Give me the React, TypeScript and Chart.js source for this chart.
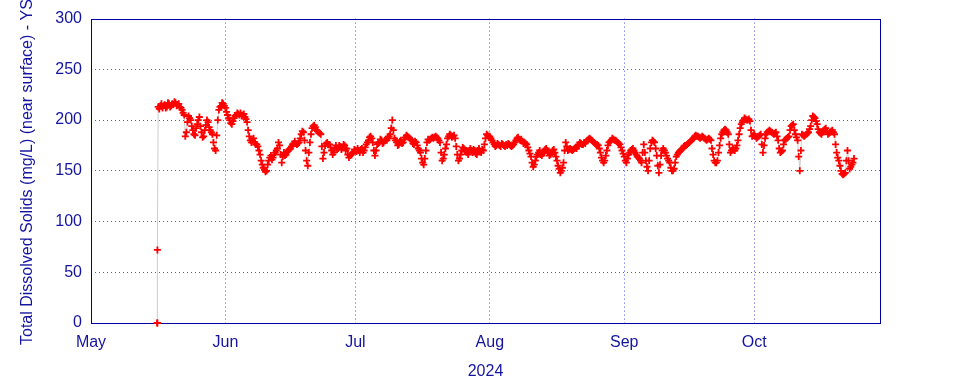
import React, { useEffect, useRef } from 'react';
import { Chart, registerables } from 'chart.js';

Chart.register(...registerables);

// ---- axis definitions ----
const MONTH_LABELS = ['May', 'Jun', 'Jul', 'Aug', 'Sep', 'Oct'];
const MONTH_START_DAYS = [0, 31, 61, 92, 123, 153]; // days since May 1
const X_MIN_DAY = 0;
const X_MAX_DAY = 182;
const Y_MIN = 0;
const Y_MAX = 300;
const Y_STEP = 50;
const YEAR_LABEL = '2024';
const Y_TITLE = 'Total Dissolved Solids (mg/L) (near surface) - YSI';

// ---- data: instrument start-up readings ----
const STARTUP_DAYS = [15.28, 15.3, 15.32];
const STARTUP_TDS = [0, 0, 72];

// ---- data: TDS readings (mg/L) every 12 h, from day 15.5 (May 16) ----
const SERIES_START_DAY = 15.5;
const SERIES_STEP_DAYS = 0.5;
const TDS = [
  213, 214, 212, 215, 213, 216, 214, 215, 217, 215,
  213, 210, 205, 188, 204, 200, 190, 185, 196, 203,
  188, 184, 195, 198, 190, 186, 172, 185, 210, 214,
  216, 212, 205, 200, 196, 202, 205, 206, 207, 205,
  203, 198, 184, 178, 182, 176, 174, 166, 156, 151,
  150, 160, 165, 163, 168, 172, 175, 158, 168, 166,
  170, 172, 176, 179, 176, 178, 186, 188, 170, 155,
  178, 192, 195, 190, 188, 186, 162, 175, 178, 176,
  170, 168, 175, 172, 174, 173, 175, 172, 163, 166,
  168, 170, 172, 168, 172, 170, 176, 180, 184, 178,
  165, 176, 178, 180, 178, 181, 182, 186, 200, 182,
  178, 176, 180, 178, 183, 184, 182, 180, 176, 178,
  172, 168, 158, 162, 178, 180, 182, 182, 184, 182,
  178, 160, 166, 176, 184, 185, 184, 182, 166, 162,
  170, 172, 170, 166, 172, 168, 170, 166, 172, 168,
  170, 182, 185, 184, 180, 176, 175, 176, 174, 176,
  174, 175, 176, 174, 176, 180, 183, 180, 179, 178,
  176, 170, 164, 154, 160, 166, 170, 165, 168, 172,
  168, 166, 170, 168, 160, 152, 150, 158, 178, 170,
  172, 170, 172, 172, 176, 177, 176, 177, 180, 182,
  180, 178, 176, 175, 168, 160, 160, 170, 178, 180,
  181, 180, 178, 176, 170, 164, 158, 166, 170, 172,
  168, 164, 162, 158, 176, 160, 150, 172, 180, 178,
  165, 148, 165, 172, 168, 162, 158, 150, 152, 164,
  168, 170, 172, 175, 176, 178, 180, 182, 185, 184,
  182, 184, 182, 180, 182, 180, 166, 158, 160, 175,
  186, 190, 190, 186, 168, 172, 170, 175, 186, 196,
  200, 201, 200, 199, 184, 186, 182, 184, 186, 168,
  182, 188, 190, 188, 186, 188, 180, 168, 170, 180,
  182, 184, 194, 196, 186, 180, 150, 186, 184, 186,
  188, 194, 204, 202, 196, 188, 186, 190, 192, 186,
  188, 190, 186, 168, 160, 150, 146, 148, 170, 152,
  156, 162,
];

// ---- data: readings taken 6 h after each of the above ----
const TDS_MID = [
  211, 216, 214, 212, 217, 213, 216, 218, 214, 216,
  212, 207, 184, 198, 202, 194, 186, 192, 200, 194,
  183, 190, 200, 193, 188, 178, 170, 200, 213, 217,
  214, 208, 202, 197, 199, 204, 207, 205, 204, 206,
  201, 190, 180, 180, 178, 176, 170, 160, 153, 149,
  156, 163, 161, 166, 170, 178, 166, 164, 165, 169,
  171, 174, 177, 177, 177, 182, 189, 180, 160, 168,
  186, 194, 193, 189, 187, 174, 168, 177, 176, 173,
  166, 172, 171, 175, 171, 176, 170, 166, 165, 167,
  171, 169, 170, 171, 168, 173, 178, 183, 182, 170,
  170, 177, 181, 177, 180, 180, 184, 192, 190, 180,
  175, 179, 177, 181, 185, 183, 181, 177, 179, 175,
  170, 162, 156, 170, 181, 181, 183, 183, 183, 180,
  168, 162, 172, 182, 186, 183, 185, 174, 160, 166,
  173, 169, 168, 170, 170, 171, 167, 170, 169, 171,
  176, 186, 183, 182, 178, 174, 177, 175, 177, 175,
  176, 177, 175, 175, 178, 182, 181, 181, 177, 177,
  173, 167, 158, 156, 164, 168, 166, 167, 171, 170,
  165, 168, 171, 164, 155, 148, 153, 170, 174, 171,
  171, 171, 173, 174, 178, 176, 178, 179, 181, 181,
  179, 177, 176, 172, 163, 158, 165, 175, 179, 182,
  180, 179, 177, 173, 167, 160, 162, 168, 171, 170,
  166, 163, 160, 168, 168, 154, 160, 178, 179, 172,
  155, 156, 170, 170, 165, 160, 153, 150, 158, 166,
  169, 171, 174, 175, 177, 179, 181, 184, 184, 183,
  183, 183, 181, 181, 181, 172, 160, 158, 168, 182,
  188, 191, 188, 176, 170, 171, 172, 180, 192, 198,
  202, 200, 201, 190, 185, 184, 183, 185, 176, 175,
  186, 189, 189, 187, 187, 184, 172, 169, 176, 181,
  183, 190, 195, 190, 183, 164, 170, 185, 185, 187,
  191, 200, 203, 199, 191, 187, 188, 191, 189, 187,
  189, 188, 176, 163, 155, 147, 147, 160, 160, 154,
  158,
];

const TEXT_COLOR = '#1414a0';
const FRAME_COLOR = '#0000a0';
const GRID_COLOR = '#5050ff';
const FONT_FAMILY = '"Liberation Sans", Arial, sans-serif';

export default function App() {
  const canvasRef = useRef<HTMLCanvasElement | null>(null);

  useEffect(() => {
    document.body.style.margin = '0';
    const canvas = canvasRef.current;
    if (!canvas) return;

    const points: { x: number; y: number }[] = STARTUP_DAYS.map((d, i) => ({ x: d, y: STARTUP_TDS[i] }));
    TDS.forEach((v, i) => {
      const day = SERIES_START_DAY + i * SERIES_STEP_DAYS;
      points.push({ x: day, y: v });
      if (i < TDS_MID.length) points.push({ x: day + SERIES_STEP_DAYS / 2, y: TDS_MID[i] });
    });

    const framePlugin = {
      id: 'frameAndTitles',
      beforeDatasetsDraw(chart: any) {
        const { ctx, chartArea } = chart;
        ctx.save();
        ctx.strokeStyle = FRAME_COLOR;
        ctx.lineWidth = 1;
        ctx.strokeRect(
          Math.round(chartArea.left) + 0.5,
          Math.round(chartArea.top) + 0.5,
          Math.round(chartArea.right - chartArea.left),
          Math.round(chartArea.bottom - chartArea.top)
        );
        ctx.restore();
      },
      afterDraw(chart: any) {
        const { ctx, chartArea } = chart;
        ctx.save();
        ctx.fillStyle = TEXT_COLOR;
        ctx.font = `16px ${FONT_FAMILY}`;
        ctx.translate(28, 345);
        ctx.rotate(-Math.PI / 2);
        ctx.textAlign = 'left';
        ctx.textBaseline = 'middle';
        ctx.fillText(Y_TITLE, 0, 0);
        ctx.restore();
        ctx.save();
        ctx.fillStyle = TEXT_COLOR;
        ctx.font = `16px ${FONT_FAMILY}`;
        ctx.textAlign = 'center';
        ctx.textBaseline = 'middle';
        ctx.fillText(YEAR_LABEL, (chartArea.left + chartArea.right) / 2, 372);
        ctx.restore();
      },
    };

    const chart = new Chart(canvas, {
      type: 'line',
      data: {
        datasets: [
          {
            data: points,
            borderColor: '#cccccc',
            borderWidth: 1,
            pointStyle: 'cross',
            pointRadius: 3.5,
            pointBorderColor: '#ff0000',
            pointBackgroundColor: '#ff0000',
            pointBorderWidth: 1.8,
            tension: 0,
            clip: false,
          } as any,
        ],
      },
      options: {
        animation: false,
        responsive: false,
        maintainAspectRatio: false,
        layout: { padding: { top: 18, right: 80, left: 0, bottom: 0 } },
        plugins: {
          legend: { display: false },
          tooltip: { enabled: false },
        },
        scales: {
          x: {
            type: 'linear',
            min: X_MIN_DAY,
            max: X_MAX_DAY,
            afterFit: (s: any) => {
              s.height = 61;
            },
            afterBuildTicks: (s: any) => {
              s.ticks = MONTH_START_DAYS.map((v) => ({ value: v }));
            },
            border: { display: false, dash: [1, 3] },
            grid: {
              drawTicks: false,
              lineWidth: 1,
              color: (c: any) => (c.tick && c.tick.value === X_MIN_DAY ? 'rgba(0,0,0,0)' : GRID_COLOR),
            },
            ticks: {
              autoSkip: false,
              maxRotation: 0,
              padding: 10,
              color: TEXT_COLOR,
              font: { family: FONT_FAMILY, size: 16 },
              callback: (v: any) => {
                const i = MONTH_START_DAYS.indexOf(Number(v));
                return i >= 0 ? MONTH_LABELS[i] : '';
              },
            },
          },
          y: {
            type: 'linear',
            min: Y_MIN,
            max: Y_MAX,
            afterFit: (s: any) => {
              s.width = 91;
            },
            border: { display: false, dash: [1, 3] },
            grid: {
              drawTicks: false,
              lineWidth: 1,
              color: (c: any) =>
                c.tick && (c.tick.value === Y_MIN || c.tick.value === Y_MAX) ? 'rgba(0,0,0,0)' : GRID_COLOR,
            },
            ticks: {
              stepSize: Y_STEP,
              padding: 9,
              color: TEXT_COLOR,
              font: { family: FONT_FAMILY, size: 16 },
            },
          },
        },
      },
      plugins: [framePlugin],
    });

    return () => {
      chart.destroy();
    };
  }, []);

  return (
    <div style={{ width: 960, height: 384 }}>
      <canvas ref={canvasRef} width={960} height={384} />
    </div>
  );
}
